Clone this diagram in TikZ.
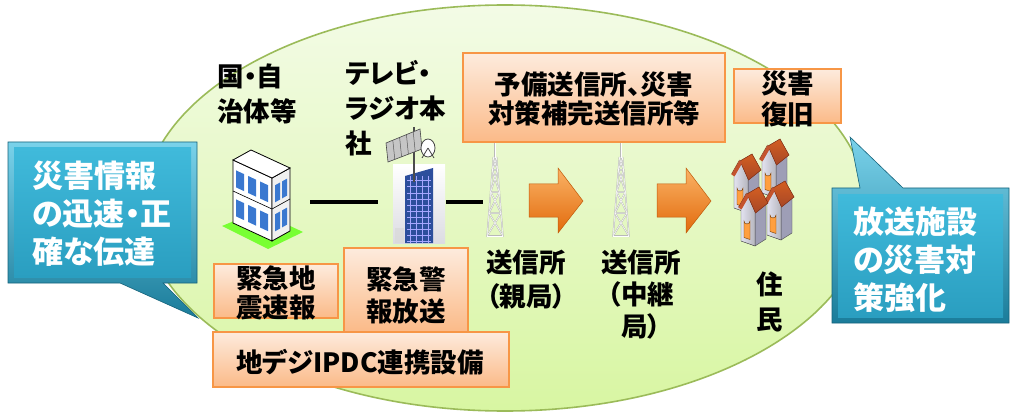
\documentclass[tikz,border=0pt]{standalone}
\usepackage{fontspec}
\setmainfont{Noto Sans CJK JP}[RawFeature=+palt]
\usetikzlibrary{calc}

\definecolor{eborder}{HTML}{9BBB59}
\definecolor{etop}{HTML}{F3FBE6}
\definecolor{ebot}{HTML}{D8F6A2}
\definecolor{otop}{HTML}{FDEBDD}
\definecolor{obot}{HTML}{FBBA88}
\definecolor{oline}{HTML}{F79646}
\definecolor{cout1}{HTML}{7AD2EA}
\definecolor{cout2}{HTML}{1A7C9A}
\definecolor{cin1}{HTML}{40BADB}
\definecolor{cin2}{HTML}{2A9EC0}
\definecolor{winblue}{HTML}{3A78D0}
\definecolor{glass}{HTML}{2C4E9C}
\definecolor{roofred}{HTML}{C4532D}
\definecolor{roofdark}{HTML}{8A361B}
\definecolor{wallhi}{HTML}{E2E2F0}
\definecolor{walllo}{HTML}{9E9EB6}
\definecolor{arrtop}{HTML}{FAB366}
\definecolor{arrbot}{HTML}{E26A0C}

% lattice transmission mast, centred on x = #1
\newcommand\drawlattice[1]{%
  \begin{scope}[shift={(#1,0)}]
    \foreach \pass/\col/\wd in {1/gray!55/1.5, 2/white/0.5} {
      \draw[\col, line width=\wd] (0,142) -- (0,158);
      \draw[\col, line width=\wd] (-1.5,157) -- (-8,237) (1.5,157) -- (8,237);
      \foreach \ya/\yb in {158/170,170/192,192/213,213/236} {
        \pgfmathsetmacro\wa{1.5+6.5*(\ya-157)/80}
        \pgfmathsetmacro\wb{1.5+6.5*(\yb-157)/80}
        \draw[\col, line width=\wd] (-\wa,\ya) -- (\wa,\ya) (-\wa,\ya) -- (\wb,\yb) (\wa,\ya) -- (-\wb,\yb);
      }
      \draw[\col, line width=\wd] (-8,236) -- (8,236);
    }
  \end{scope}}

% tall gabled house, front face starting at (#1,#2)
\newcommand\drawhut[2]{%
  \begin{scope}[shift={(#1,#2)}]
    \filldraw[draw=gray!60!black, line width=0.4, fill=walllo]
      (14,22) -- (25,15) -- (25,50) -- (14,57) -- cycle;
    \filldraw[draw=gray!60!black, line width=0.4, left color=wallhi, right color=gray!45!wallhi]
      (0,18) -- (7,6) -- (14,22) -- (14,57) -- (0,52) -- cycle;
    \filldraw[draw=roofdark, line width=0.5, top color=roofred!75!orange, bottom color=roofred!85!black]
      (6,5) -- (18,-2) -- (27,14) -- (14.5,24) -- cycle;
    \draw[roofred, line width=3.6] (7,5.5) -- (-1,19.5);
    \draw[roofdark, line width=0.5] (5.5,4) -- (-2.5,18);
    \filldraw[fill=orange!75, draw=orange!45!black, line width=0.4]
      (3,32) arc[start angle=180, end angle=0, radius=3] -- (9,50.5) -- (3,48.5) -- cycle;
  \end{scope}}

\tikzset{
  lbl/.style={font=\bfseries\fontsize{26.5}{35}\selectfont, inner sep=0, align=left},
  boxtxt/.style={font=\bfseries\fontsize{26.5}{30}\selectfont, inner sep=0, align=center},
  obox/.style={draw=oline, line width=1.6, top color=otop, bottom color=obot, inner sep=0},
  ctxt/.style={font=\bfseries\fontsize{31}{38}\selectfont, text=white, inner sep=0, align=left},
  calloutouter/.style={draw=cout2!80!black, line width=0.6, top color=cout1, bottom color=cout2},
  calloutinner/.style={top color=cin1, bottom color=cin2},
  link/.style={line width=3.5, black},
  slot/.style={inner sep=0, minimum height=90},
  blockarrow/.style={draw=arrbot!85!black, line width=0.5, top color=arrtop, bottom color=arrbot},
}

\begin{document}
\begin{tikzpicture}[x=1pt, y=-1pt]
\useasboundingbox (0,0) rectangle (1011,414);
\fill[white] (0,0) rectangle (1011,414);

% broadcasting field
\draw[eborder, line width=1.6, top color=etop, bottom color=ebot]
  (505,208) ellipse [x radius=362, y radius=203];

% left callout
\path[calloutouter] (8,142) -- (197,142) -- (197,283) -- (163,283) -- (198,318)
  -- (120,283) -- (8,283) -- cycle;
\fill[calloutinner] (14,148) rectangle (191,277);
\node[ctxt, anchor=west] (lefttxt) at (32,214) {災害情報\\の迅速・正\\確な伝達};

% right callout
\path[calloutouter] (832,188) -- (860,188) -- (850,137) -- (903,188) -- (1009,188)
  -- (1009,323) -- (832,323) -- cycle;
\fill[calloutinner] (838,194) rectangle (1003,317);
\node[ctxt, anchor=west] (righttxt) at (853,259.5) {放送施設\\の災害対\\策強化};

% icon slots
\node[slot, minimum width=84] (gov) at (268,202) {};
\node[slot, minimum width=68] (tv) at (412,202) {};
\node[slot, minimum width=24] (t1) at (495,202) {};
\node[slot, minimum width=24] (t2) at (621,202) {};
\node[slot, minimum width=66] (homes) at (767,195) {};

% government building
\fill[green!55!lime!80!white] (222,226) -- (268,249) -- (303,232) -- (258,211) -- cycle;
\filldraw[fill=white, draw=black, line width=0.8] (233,160) -- (272,178) -- (272,241) -- (233,223) -- cycle;
\filldraw[fill=gray!12, draw=black, line width=0.8] (272,178) -- (290,168) -- (290,231) -- (272,241) -- cycle;
\filldraw[fill=white, draw=black, line width=0.8] (233,160) -- (251,150) -- (290,168) -- (272,178) -- cycle;
\foreach \x in {236,248,260} \foreach \d in {9,38} {
  \fill[winblue] (\x,{160+(\x-233)*0.4615+\d}) -- ++(8,3.7) -- ++(0,17) -- ++(-8,-3.7) -- cycle;
}
\draw[black, line width=0.6] (233,191) -- (272,209) -- (290,199);
\foreach \x in {275,282} \foreach \d in {9,38} {
  \fill[winblue] (\x,{178-(\x-272)*0.5556+\d}) -- ++(5,-2.8) -- ++(0,17) -- ++(-5,2.8) -- cycle;
}

% broadcaster headquarters
\fill[top color=white, bottom color=blue!10!gray!25] (393,165) rectangle (445,243);
\fill[glass] (405,176) -- (433,168) -- (433,243) -- (405,243) -- cycle;
\foreach \y in {181,187,...,241} \draw[blue!35!white, line width=1] (407,\y) -- (431,\y);
\foreach \x in {410,416,...,431} \draw[blue!35!white, line width=0.6] (\x,176) -- (\x,243);
\fill[gray!30, opacity=0.7] (395,228) rectangle (404,243);
\draw[gray!60!black, line width=2.4] (414,127) -- (414,182);
\filldraw[fill=gray!45, draw=gray!55!black, line width=0.6] (386,143) -- (420,129) -- (422,149) -- (388,162) -- cycle;
\foreach \s in {0.2,0.4,0.6,0.8} \draw[gray!70!black, line width=0.5] ($(386,143)!\s!(420,129)$) -- ($(388,162)!\s!(422,149)$);
\filldraw[fill=white, draw=gray!55!black, line width=0.8] (428,148) ellipse [x radius=7, y radius=9];
\draw[gray!55!black, line width=0.8] (428,148) -- (422,158) (428,148) -- (434,158);

% links between the sites
\draw[link] (gov.east) -- (tv.west);
\draw[link] (tv.east) -- (t1.west);

% transmitting stations
\drawlattice{495}
\drawlattice{621}

% signal flow arrows
\path[blockarrow] (529,184) -- (558,184) -- (558,168) -- (583,201) -- (558,233) -- (558,217) -- (529,217) -- cycle;
\path[blockarrow] (657,184) -- (686,184) -- (686,168) -- (711,201) -- (686,233) -- (686,217) -- (657,217) -- cycle;

% residents' houses
\drawhut{762}{141}
\drawhut{734}{156}
\drawhut{767}{183}
\drawhut{741}{189}

% black labels
\node[lbl, anchor=west] (govlbl) at (217,94) {国・自\\治体等};
\node[lbl, anchor=west] (tvlbl) at (345,108) {テレビ・\\ラジオ本\\社};
\node[lbl, align=center, font=\bfseries\fontsize{26.5}{34}\selectfont] (oya) at (526,280) {送信所\\（親局）};
\node[lbl, align=center, font=\bfseries\fontsize{26.5}{32}\selectfont] (relay) at (641,295) {送信所\\（中継\\局）};
\node[lbl, align=center] (jumin) at (770,302) {住\\民};

% orange boxes
\node[obox, minimum width=262, minimum height=89] (backup) at (594,97.5) {};
\node[boxtxt, font=\bfseries\fontsize{26.5}{29.5}\selectfont] (backuptxt) at (594,99) {予備送信所、災害\\対策補完送信所等};
\node[obox, minimum width=107, minimum height=54] (repair) at (787.5,96) {};
\node[boxtxt, font=\bfseries\fontsize{26.5}{31}\selectfont] (repairtxt) at (787.5,98.5) {災害\\復旧};
\node[obox, minimum width=124, minimum height=54] (eew) at (276,291) {};
\node[boxtxt, font=\bfseries\fontsize{26.5}{28.5}\selectfont] (eewtxt) at (276,293) {緊急地\\震速報};
\node[obox, minimum width=124, minimum height=84] (ews) at (406,290) {};
\node[boxtxt, font=\bfseries\fontsize{26.5}{32}\selectfont] (ewstxt) at (406,295) {緊急警\\報放送};
\node[obox, minimum width=296, minimum height=55] (ipdc) at (361,359.5) {};
\node[boxtxt] (ipdctxt) at (360,362) {地デジIPDC連携設備};
\end{tikzpicture}
\end{document}
